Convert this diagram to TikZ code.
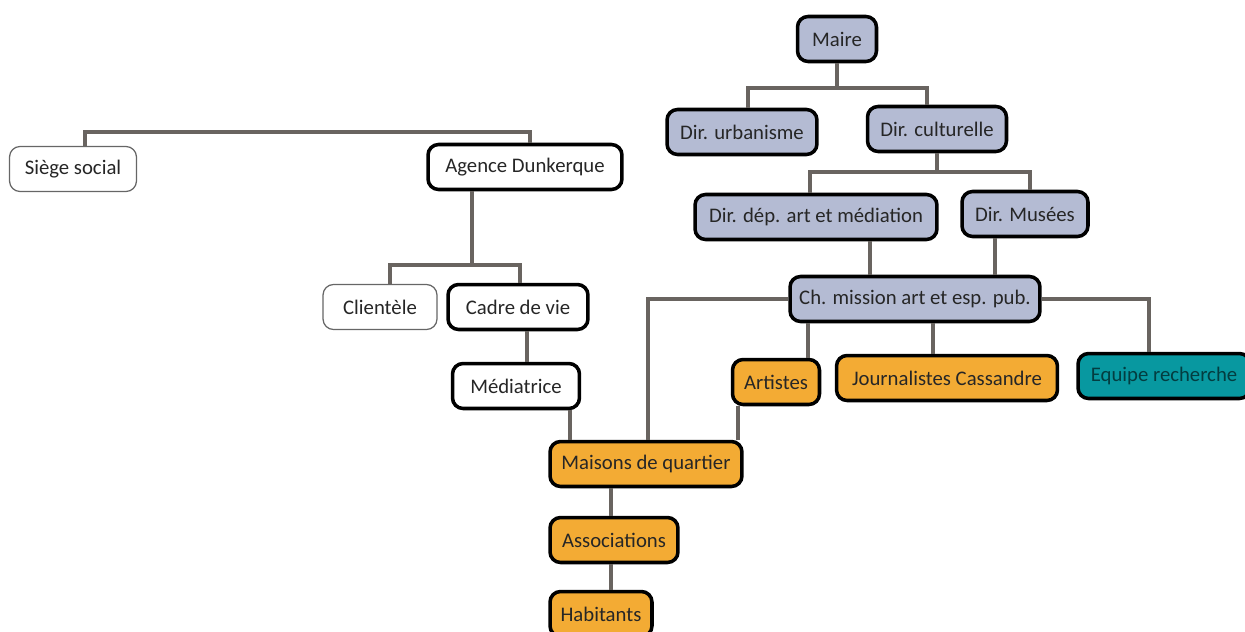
\documentclass[tikz,border=0pt]{standalone}
\usepackage{fontspec}
\setmainfont{Carlito}
\usepackage{tikz}
\usetikzlibrary{positioning}
\definecolor{cityblue}{RGB}{180,187,211}
\definecolor{actororange}{RGB}{243,171,52}
\definecolor{researchteal}{RGB}{8,152,160}
\definecolor{linkgray}{RGB}{105,100,96}

\begin{document}
\begin{tikzpicture}[x=0.02cm,y=-0.02cm,
    unit/.style={rectangle,rounded corners=6pt,minimum height=0.9cm,inner sep=2pt,
      font=\fontsize{11.8}{14}\selectfont,fill=white,text=black!85},
    firm/.style={unit,draw=black,line width=2pt},
    firmthin/.style={unit,draw=black!60,line width=0.7pt},
    city/.style={unit,draw=black,line width=2pt,fill=cityblue},
    actor/.style={unit,draw=black,line width=2pt,fill=actororange},
    link/.style={draw=linkgray,line width=2.4pt}]
    \useasboundingbox (0,0) rectangle (1245,632);
        % The company side
        \node[firmthin,minimum width=2.54cm] (siege) at (73,169) {Siège social};
        \node[firm,minimum width=3.88cm] (agence) at (525,167) {Agence Dunkerque};
        \node[firmthin,minimum width=2.28cm] (clientele) at (380,307) {Clientèle};
        \node[firm,minimum width=2.8cm] (cadre) at (518,307) {Cadre de vie};
        \node[firm,minimum width=2.54cm] (mediatrice) at (516,386) {Médiatrice};
        % The city side
        \node[city,minimum width=1.58cm] (maire) at (837,39) {Maire};
        \node[city,minimum width=3cm] (urbanisme) at (742,132) {Dir. urbanisme};
        \node[city,minimum width=2.78cm] (culturelle) at (937,129) {Dir. culturelle};
        \node[city,minimum width=4.84cm] (departement) at (816,217) {Dir. dép. art et médiation};
        \node[city,minimum width=2.52cm] (musees) at (1025,214) {Dir. Musées};
        \node[city,minimum width=5cm] (mission) at (915,299) {Ch. mission art et esp. pub.};
        % The actors on the ground
        \node[actor,minimum width=1.74cm] (artistes) at (776,382) {Artistes};
        \node[actor,minimum width=4.42cm] (journalistes) at (947,378) {Journalistes Cassandre};
        \node[unit,draw=black,line width=2pt,fill=researchteal,text=black!60!researchteal,
          minimum width=3.44cm] (equipe) at (1164,376) {Equipe recherche};
        \node[actor,minimum width=3.84cm] (maisons) at (646,464) {Maisons de quartier};
        \node[actor,minimum width=2.56cm] (associations) at (614,540) {Associations};
        \node[actor,minimum width=2.04cm] (habitants) at (601,614) {Habitants};
        % Company links
        \draw[link] (siege.north -| 85,0) -- (85,132) -| (agence.north -| 530,0);
        \draw[link] (agence.south -| 472,0) -- (472,265);
        \draw[link] (clientele.north -| 390,0) -- (390,265) -| (cadre.north -| 520,0);
        \draw[link] (cadre.south -| 527,0) -- (mediatrice.north -| 527,0);
        \draw[link] (mediatrice.south -| 570,0) -- (maisons.north -| 570,0);
        % City links
        \draw[link] (maire.south) -- (837,88);
        \draw[link] (urbanisme.north -| 748,0) -- (748,88) -| (culturelle.north -| 927,0);
        \draw[link] (culturelle.south) -- (937,172);
        \draw[link] (departement.north -| 810,0) -- (810,172) -| (musees.north -| 1030,0);
        \draw[link] (departement.south -| 870,0) -- (mission.north -| 870,0);
        \draw[link] (musees.south -| 995,0) -- (mission.north -| 995,0);
        % Links to the actors
        \draw[link] (mission.west) -| (maisons.north -| 648,0);
        \draw[link] (mission.east) -| (equipe.north -| 1149,0);
        \draw[link] (mission.south -| 808,0) -- (artistes.north -| 808,0);
        \draw[link] (mission.south -| 933,0) -- (journalistes.north -| 933,0);
        \draw[link] (artistes.south -| 738,0) -- (maisons.north -| 738,0);
        \draw[link] (maisons.south -| 611,0) -- (associations.north -| 611,0);
        \draw[link] (associations.south -| 611,0) -- (habitants.north -| 611,0);
    \end{tikzpicture}
\end{document}
